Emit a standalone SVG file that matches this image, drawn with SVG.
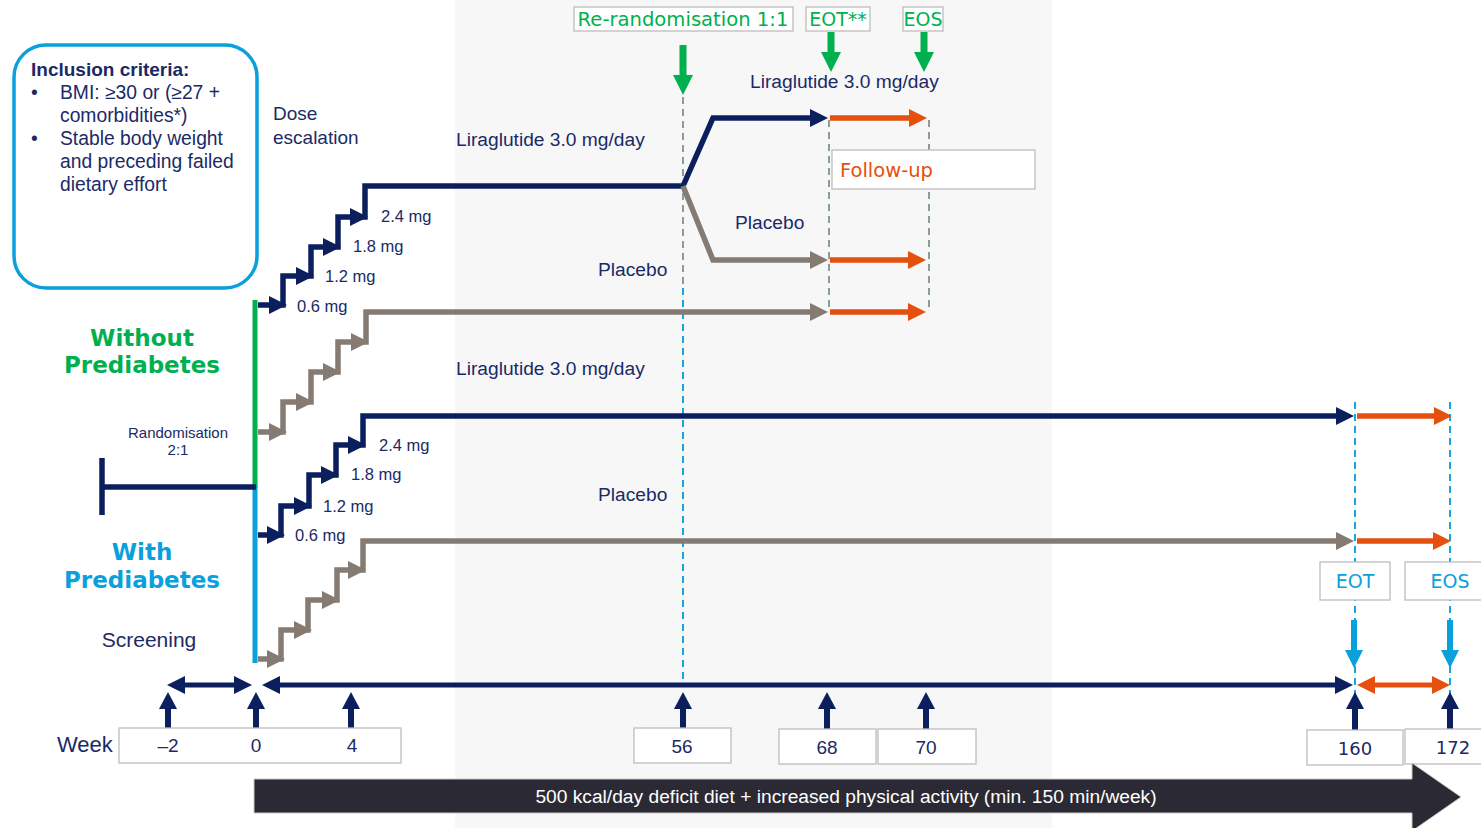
<svg xmlns="http://www.w3.org/2000/svg" xmlns:xlink="http://www.w3.org/1999/xlink" width="1481" height="828" viewBox="0 0 1481 828">
<style>
.t{font-family:"Liberation Sans",Arial,sans-serif;fill:#1b2a66}
.v{font-family:"DejaVu Sans",Verdana,sans-serif}
.nv{stroke:#0b1f5e;fill:none;stroke-width:5.5;stroke-linejoin:miter}
.gy{stroke:#857b72;fill:none;stroke-width:5.5;stroke-linejoin:miter}
.or{stroke:#e5500f;fill:none;stroke-width:5.5}
.fn{fill:#0b1f5e}
.fg{fill:#857b72}
.fo{fill:#e5500f}
.fgr{fill:#00b04f}
.fb{fill:#0aa0dc}
.dg{stroke:#8c9c98;stroke-width:2;stroke-dasharray:7 5;fill:none}
.db{stroke:#1aa3dd;stroke-width:2;stroke-dasharray:7 5;fill:none}
.box{fill:#fff;stroke:#bdbdbd;stroke-width:1.3}
</style>
<defs>
<path id="hr" d="M0,0 L-18,-9 L-18,9 Z"/>
<path id="hl" d="M0,0 L18,-9 L18,9 Z"/>
<path id="hu" d="M0,0 L-9,17 L9,17 Z"/>
<path id="hd" d="M0,0 L-9,-18 L9,-18 Z"/>
<path id="hdg" d="M0,0 L-10,-20 L10,-20 Z"/>
</defs>
<rect width="1481" height="828" fill="#fff"/>
<rect x="455" y="0" width="597" height="828" fill="#f7f7f7"/>

<g id="inclusion">
<rect x="14" y="45" width="243" height="243" rx="32" fill="#fff" stroke="#0aa0dc" stroke-width="3.5"/>
<text class="t" x="31" y="76" font-size="19" font-weight="bold">Inclusion criteria:</text>
<text class="t" font-size="19.3"><tspan x="31" y="99">•</tspan><tspan x="60" y="99">BMI: ≥30 or (≥27 +</tspan><tspan x="60" y="122">comorbidities*)</tspan><tspan x="31" y="145">•</tspan><tspan x="60" y="145">Stable body weight</tspan><tspan x="60" y="168">and preceding failed</tspan><tspan x="60" y="191">dietary effort</tspan></text>
</g>

<g id="connectors">
<path class="dg" d="M683,97 V288"/>
<path class="db" d="M683,288 V686"/>
<path class="dg" d="M829,120 V312"/>
<path class="dg" d="M929,120 V312"/>
<path class="db" d="M1355,402 V700"/>
<path class="db" d="M1450,402 V700"/>
<path d="M255,300 V488" stroke="#00b050" stroke-width="5" fill="none"/>
<path d="M255,486 V663" stroke="#0aa0dc" stroke-width="5" fill="none"/>
<path d="M102,458 V515 M102,487 H256" stroke="#0b1f5e" stroke-width="5.5" fill="none"/>
<path class="nv" d="M258,305 H283 V276 H311 V247 H338 V217 H365 V186 H683 L713,118 H815"/>
<use href="#hr" x="287" y="305" class="fn"/>
<use href="#hr" x="314" y="276" class="fn"/>
<use href="#hr" x="341" y="247" class="fn"/>
<use href="#hr" x="368" y="217" class="fn"/>
<use href="#hr" x="828" y="118" class="fn"/>
<path class="gy" d="M683,186 L713,260 H815"/>
<use href="#hr" x="828" y="260" class="fg"/>
<path class="gy" d="M258,432 H283 V402 H311 V372 H338 V342 H366 V312 H815"/>
<use href="#hr" x="287" y="432" class="fg"/>
<use href="#hr" x="314" y="402" class="fg"/>
<use href="#hr" x="341" y="372" class="fg"/>
<use href="#hr" x="369" y="342" class="fg"/>
<use href="#hr" x="828" y="312" class="fg"/>
<path class="or" d="M830,118 H915 M830,260 H915 M830,312 H915"/>
<use href="#hr" x="927" y="118" class="fo"/>
<use href="#hr" x="926" y="260" class="fo"/>
<use href="#hr" x="926" y="312" class="fo"/>
<path class="nv" d="M258,535 H281 V506 H309 V475 H336 V445 H363 V416 H1340"/>
<use href="#hr" x="285" y="535" class="fn"/>
<use href="#hr" x="312" y="506" class="fn"/>
<use href="#hr" x="339" y="475" class="fn"/>
<use href="#hr" x="366" y="445" class="fn"/>
<use href="#hr" x="1354" y="416" class="fn"/>
<path class="gy" d="M258,659 H281 V630 H308 V600 H337 V570 H363 V541 H1340"/>
<use href="#hr" x="285" y="659" class="fg"/>
<use href="#hr" x="312" y="630" class="fg"/>
<use href="#hr" x="340" y="600" class="fg"/>
<use href="#hr" x="366" y="570" class="fg"/>
<use href="#hr" x="1354" y="541" class="fg"/>
<path class="or" d="M1357,416 H1440 M1357,541 H1440"/>
<use href="#hr" x="1452" y="416" class="fo"/>
<use href="#hr" x="1451" y="541" class="fo"/>
<path d="M178,685 H242" stroke="#0b1f5e" stroke-width="5" fill="none"/>
<use href="#hl" x="167" y="685" class="fn"/>
<use href="#hr" x="252" y="685" class="fn"/>
<path d="M272,685 H1342" stroke="#0b1f5e" stroke-width="5" fill="none"/>
<use href="#hl" x="262" y="685" class="fn"/>
<use href="#hr" x="1353" y="685" class="fn"/>
<path d="M1367,685 H1440" stroke="#e5500f" stroke-width="5" fill="none"/>
<use href="#hl" x="1357" y="685" class="fo"/>
<use href="#hr" x="1450" y="685" class="fo"/>
<g stroke="#0b1f5e" stroke-width="6">
<path d="M168,706 V733 M256,706 V733 M351,706 V733 M683,706 V733 M827,706 V733 M926,706 V733 M1355,706 V733 M1450,706 V733"/>
</g>
<use href="#hu" x="168" y="692" class="fn"/>
<use href="#hu" x="256" y="692" class="fn"/>
<use href="#hu" x="351" y="692" class="fn"/>
<use href="#hu" x="683" y="692" class="fn"/>
<use href="#hu" x="827" y="692" class="fn"/>
<use href="#hu" x="926" y="692" class="fn"/>
<use href="#hu" x="1355" y="692" class="fn"/>
<use href="#hu" x="1450" y="692" class="fn"/>
<path d="M1354,620 V652 M1450,620 V652" stroke="#0aa0dc" stroke-width="6"/>
<use href="#hd" x="1354" y="668" class="fb"/>
<use href="#hd" x="1450" y="668" class="fb"/>
<path d="M683,45 V77 M831,32 V54 M924,32 V54" stroke="#00b04f" stroke-width="7"/>
<use href="#hdg" x="683" y="95" class="fgr"/>
<use href="#hdg" x="831" y="72" class="fgr"/>
<use href="#hdg" x="924" y="72" class="fgr"/>
</g>

<g id="top-labels">
<rect class="box" x="574" y="7" width="219" height="24"/>
<text class="v" x="683" y="26" font-size="19.6" fill="#00b04f" text-anchor="middle">Re-randomisation 1:1</text>
<rect class="box" x="806" y="7" width="64" height="24"/>
<text class="v" x="838" y="26" font-size="19" fill="#00b04f" text-anchor="middle">EOT**</text>
<rect class="box" x="903" y="7" width="40" height="24"/>
<text class="v" x="923" y="26" font-size="19" fill="#00b04f" text-anchor="middle">EOS</text>
</g>

<g id="follow-up">
<rect class="box" x="832" y="150" width="203" height="39"/>
<text class="v" x="840" y="177" font-size="19.5" fill="#e5500f">Follow-up</text>
</g>

<g id="arm-labels">
<text class="t" x="273" y="120" font-size="19">Dose</text>
<text class="t" x="273" y="144" font-size="19">escalation</text>
<text class="t" x="750" y="88" font-size="19.2">Liraglutide 3.0 mg/day</text>
<text class="t" x="456" y="146" font-size="19.2">Liraglutide 3.0 mg/day</text>
<text class="t" x="735" y="229" font-size="19.2">Placebo</text>
<text class="t" x="598" y="276" font-size="19.2">Placebo</text>
<text class="t" x="456" y="375" font-size="19.2">Liraglutide 3.0 mg/day</text>
<text class="t" x="598" y="501" font-size="19.2">Placebo</text>
<g font-size="16.5">
<text class="t" x="297" y="312">0.6 mg</text>
<text class="t" x="325" y="282">1.2 mg</text>
<text class="t" x="353" y="252">1.8 mg</text>
<text class="t" x="381" y="222">2.4 mg</text>
<text class="t" x="295" y="541">0.6 mg</text>
<text class="t" x="323" y="512">1.2 mg</text>
<text class="t" x="351" y="480">1.8 mg</text>
<text class="t" x="379" y="451">2.4 mg</text>
</g>
</g>

<g id="strata">
<text class="v" x="142" y="346" font-size="23" font-weight="bold" fill="#00b050" text-anchor="middle">Without</text>
<text class="v" x="142" y="373" font-size="23" font-weight="bold" fill="#00b050" text-anchor="middle">Prediabetes</text>
<text class="v" x="142" y="560" font-size="23" font-weight="bold" fill="#0aa0dc" text-anchor="middle">With</text>
<text class="v" x="142" y="588" font-size="23" font-weight="bold" fill="#0aa0dc" text-anchor="middle">Prediabetes</text>
<text class="t" x="178" y="438" font-size="15" text-anchor="middle">Randomisation</text>
<text class="t" x="178" y="455" font-size="15" text-anchor="middle">2:1</text>
<text class="t" x="149" y="647" font-size="21" text-anchor="middle">Screening</text>
</g>

<g id="eot-eos-boxes">
<rect class="box" x="1320" y="562" width="70" height="38"/>
<text class="v" x="1355" y="588" font-size="19" fill="#0aa0dc" text-anchor="middle">EOT</text>
<rect class="box" x="1405" y="562" width="80" height="38"/>
<text class="v" x="1450" y="588" font-size="19" fill="#0aa0dc" text-anchor="middle">EOS</text>
</g>

<g id="weeks">
<text class="t" x="57" y="752" font-size="22">Week</text>
<rect class="box" x="119" y="728" width="282" height="35"/>
<text class="t" x="168" y="752" font-size="19" text-anchor="middle">–2</text>
<text class="t" x="256" y="752" font-size="19" text-anchor="middle">0</text>
<text class="t" x="352" y="752" font-size="19" text-anchor="middle">4</text>
<rect class="box" x="634" y="728" width="97" height="35"/>
<text class="t" x="682" y="753" font-size="19" text-anchor="middle">56</text>
<rect class="box" x="779" y="729" width="97" height="35"/>
<text class="t" x="827" y="754" font-size="19" text-anchor="middle">68</text>
<rect class="box" x="878" y="729" width="98" height="35"/>
<text class="t" x="926" y="754" font-size="19" text-anchor="middle">70</text>
<rect class="box" x="1307" y="730" width="96" height="35"/>
<text class="t v" x="1355" y="755" font-size="18" text-anchor="middle">160</text>
<rect class="box" x="1405" y="729" width="80" height="35"/>
<text class="t v" x="1453" y="754" font-size="18" text-anchor="middle">172</text>
</g>

<g id="lifestyle">
<path d="M254,779 H1412 V763 L1461,797 L1412,831 V813 H254 Z" fill="#2b2a34" stroke="#c8c8c8" stroke-width="1"/>
<text x="846" y="803" font-family="Liberation Sans, Arial, sans-serif" font-size="19.2" fill="#fff" text-anchor="middle">500 kcal/day deficit diet + increased physical activity (min. 150 min/week)</text>
</g>
</svg>
